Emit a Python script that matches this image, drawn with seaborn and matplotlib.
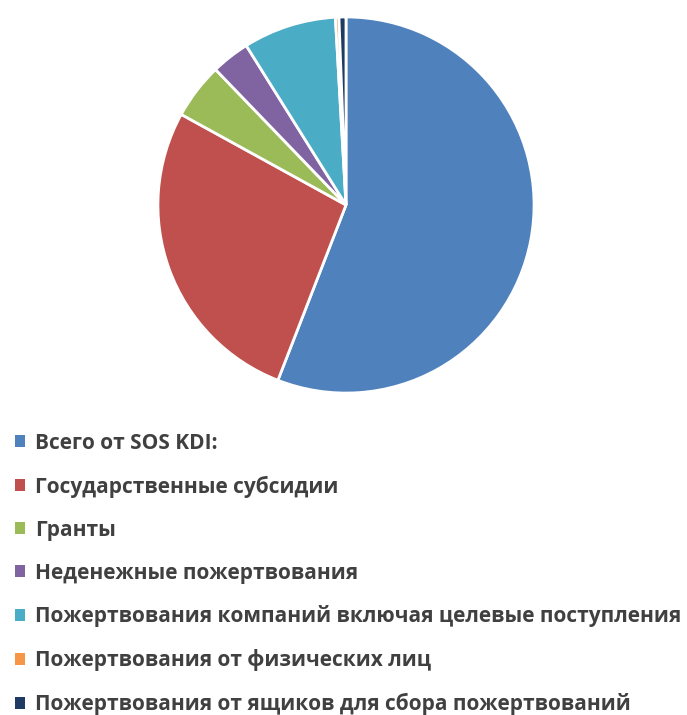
import matplotlib
matplotlib.use("Agg")
import matplotlib.pyplot as plt
import seaborn as sns
from matplotlib.patches import Patch

# shares of income (percent)
categories = [
    "Всего от SOS KDI:",
    "Государственные субсидии",
    "Гранты",
    "Неденежные пожертвования",
    "Пожертвования компаний включая целевые поступления",
    "Пожертвования от физических лиц",
    "Пожертвования от ящиков для сбора пожертвований",
]
shares = [55.9, 27.1, 4.8, 3.3, 8.0, 0.3, 0.6]
colors = ["#4F81BD", "#C0504D", "#9BBB59", "#8064A2", "#4BACC6", "#F79646", "#1F3B63"]

sns.set_theme(style="white")
plt.rcParams["font.family"] = ["Open Sans", "DejaVu Sans"]

W, H = 687, 715
fig = plt.figure(figsize=(W / 100, H / 100), dpi=100)
fig.patch.set_facecolor("white")

cx, cy, r = 346, 205, 189
ax = fig.add_axes([(cx - r) / W, (H - cy - r) / H, 2 * r / W, 2 * r / H])
ax.pie(shares, colors=colors, startangle=90, counterclock=False,
       wedgeprops=dict(edgecolor="white", linewidth=2))
ax.set_xlim(-1.005, 1.005)
ax.set_ylim(-1.005, 1.005)
ax.set_aspect("equal")
ax.axis("off")

handles = [Patch(facecolor=c, edgecolor="none") for c in colors]
fig.legend(handles, categories, loc="upper left",
           bbox_to_anchor=(-4 / W, 1 - 414 / H), frameon=False,
           prop=dict(family=["Open Sans", "DejaVu Sans"], weight="bold", size=15),
           labelcolor="#404040", handlelength=0.5, handleheight=0.5,
           handletextpad=0.48, labelspacing=1.05)

fig.savefig("out.png", dpi=100, facecolor="white")
